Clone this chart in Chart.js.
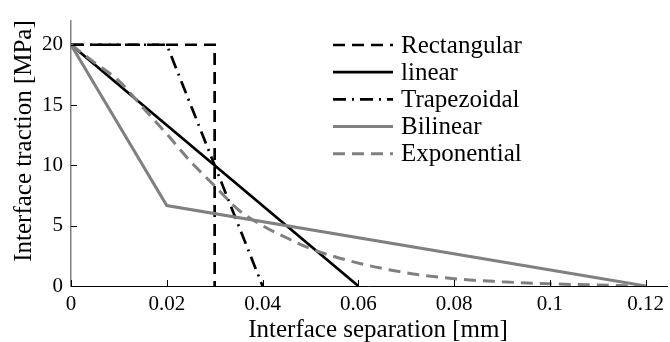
<!DOCTYPE html>
<html>
<head>
<meta charset="utf-8">
<title>Traction-separation laws</title>
<script src="https://cdn.jsdelivr.net/npm/chart.js@4.4.0/dist/chart.umd.min.js"></script>
<style>
  html, body { margin: 0; padding: 0; background: #fff; }
  #wrap { width: 670px; height: 342px; }
</style>
</head>
<body>
<div id="wrap"><canvas id="czmChart" width="670" height="342"></canvas></div>
<script>
// Cohesive zone traction-separation laws
const sepTicks = [0, 0.02, 0.04, 0.06, 0.08, 0.1, 0.12];
const tracTicks = [0, 5, 10, 15, 20];

const lawNames = ['Rectangular', 'linear', 'Trapezoidal', 'Bilinear', 'Exponential'];

const rectSep = [0, 0.03, 0.03];
const rectTrac = [20, 20, 0];

const linSep = [0, 0.06];
const linTrac = [20, 0];

const trapSep = [0, 0.02, 0.04];
const trapTrac = [20, 20, 0];

const bilinSep = [0, 0.02, 0.12];
const bilinTrac = [20, 6.67, 0];

const expSep = [0, 0.005, 0.01, 0.015, 0.02, 0.025, 0.03, 0.035, 0.04, 0.045, 0.05, 0.06, 0.07, 0.08, 0.09, 0.1, 0.11, 0.12];
const expTrac = [20, 18.5, 17.0, 14.8, 12.6, 10.3, 8.3, 6.3, 5.0, 4.0, 3.1, 1.9, 1.1, 0.6, 0.35, 0.18, 0.08, 0];

const BLACK = '#000000';
const GREY = '#808080';
const SERIF = "'Liberation Serif', 'Times New Roman', serif";

Chart.defaults.color = '#000';
Chart.defaults.font.family = SERIF;

const toPoints = (xs, ys) => xs.map((x, i) => ({ x: x, y: ys[i] }));

function lawDataset(i, xs, ys, color, width, dash, extra) {
    return Object.assign({
        label: lawNames[i],
        data: toPoints(xs, ys),
        borderColor: color,
        backgroundColor: color,
        borderWidth: width,
        borderDash: dash,
        pointRadius: 0,
        fill: false,
        tension: 0,
        order: 5 - i
    }, extra || {});
}

// Legend drawn as short line samples with the dataset's own dash pattern
const lineLegend = {
    id: 'lineLegend',
    afterDraw(chart) {
        const ctx = chart.ctx;
        const x0 = 333, x1 = 393, tx = 401, y0 = 45, step = 27.2;
        ctx.save();
        ctx.font = '25px ' + SERIF;
        ctx.textBaseline = 'middle';
        ctx.fillStyle = '#000';
        chart.data.datasets.forEach((ds, i) => {
            const y = y0 + i * step;
            ctx.strokeStyle = ds.borderColor;
            ctx.lineWidth = ds.borderWidth;
            ctx.setLineDash(ds.borderDash || []);
            ctx.beginPath();
            ctx.moveTo(x0, y);
            ctx.lineTo(x1, y);
            ctx.stroke();
            ctx.setLineDash([]);
            ctx.fillText(ds.label, tx, y + 1);
        });
        ctx.restore();
    }
};

// Inward tick marks and axis titles
const axisDecor = {
    id: 'axisDecor',
    afterDraw(chart) {
        const ctx = chart.ctx;
        const xs = chart.scales.x, ys = chart.scales.y;
        const area = chart.chartArea;
        const len = 6;
        ctx.save();
        ctx.strokeStyle = '#000';
        ctx.lineWidth = 1;
        ctx.beginPath();
        xs.ticks.forEach(t => {
            const px = Math.round(xs.getPixelForValue(t.value)) + 0.5;
            ctx.moveTo(px, area.bottom);
            ctx.lineTo(px, area.bottom - len);
        });
        ys.ticks.forEach(t => {
            const py = Math.round(ys.getPixelForValue(t.value)) + 0.5;
            ctx.moveTo(area.left, py);
            ctx.lineTo(area.left + len, py);
        });
        ctx.stroke();

        ctx.fillStyle = '#000';
        ctx.font = '25px ' + SERIF;
        ctx.textAlign = 'center';
        ctx.textBaseline = 'alphabetic';
        ctx.fillText('Interface separation [mm]', 378, 337);

        ctx.translate(31, 141);
        ctx.rotate(-Math.PI / 2);
        ctx.fillText('Interface traction [MPa]', 0, 0);
        ctx.restore();
    }
};

new Chart(document.getElementById('czmChart').getContext('2d'), {
    type: 'line',
    data: {
        datasets: [
            lawDataset(0, rectSep, rectTrac, BLACK, 2.7, [12, 7]),
            lawDataset(1, linSep, linTrac, BLACK, 2.7, []),
            lawDataset(2, trapSep, trapTrac, BLACK, 2.7, [13, 6, 2, 6]),
            lawDataset(3, bilinSep, bilinTrac, GREY, 3, []),
            lawDataset(4, expSep, expTrac, GREY, 3, [12, 7], { cubicInterpolationMode: 'monotone' })
        ]
    },
    options: {
        responsive: false,
        animation: false,
        layout: { padding: { top: 10, right: 0, bottom: 0, left: 0 } },
        plugins: {
            legend: { display: false },
            tooltip: { enabled: false }
        },
        scales: {
            x: {
                type: 'linear',
                min: 0,
                max: 0.1246,
                afterBuildTicks: s => { s.ticks = sepTicks.map(v => ({ value: v })); },
                afterFit: s => { s.height = 56; },
                ticks: {
                    callback: v => String(v),
                    font: { size: 21 },
                    padding: 6,
                    maxRotation: 0,
                    autoSkip: false
                },
                grid: { display: false, drawTicks: false },
                border: { display: true, color: '#000', width: 1 }
            },
            y: {
                type: 'linear',
                min: 0,
                max: 22,
                afterBuildTicks: s => { s.ticks = tracTicks.map(v => ({ value: v })); },
                afterFit: s => { s.width = 71; },
                ticks: {
                    callback: v => String(v),
                    font: { size: 21 },
                    padding: 8,
                    autoSkip: false
                },
                grid: { display: false, drawTicks: false },
                border: { display: true, color: GREY, width: 1.5 }
            }
        }
    },
    plugins: [lineLegend, axisDecor]
});
</script>
</body>
</html>
